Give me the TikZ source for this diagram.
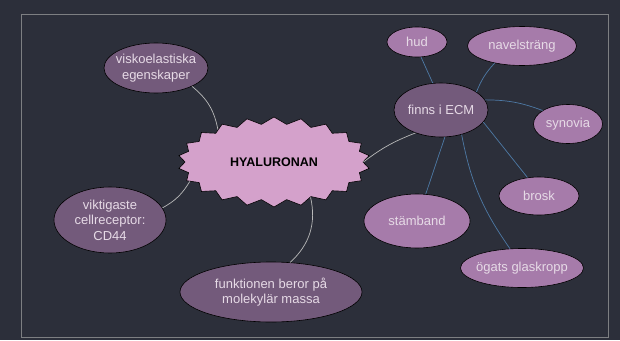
\documentclass[tikz,border=0pt]{standalone}
\usepackage{fontspec}
\setmainfont{Liberation Sans}
\usetikzlibrary{shapes.geometric,shapes.symbols}
\definecolor{bgcol}{RGB}{44,47,58}
\definecolor{framecol}{RGB}{125,127,130}
\definecolor{darkpurple}{RGB}{115,90,123}
\definecolor{lightpurple}{RGB}{166,123,170}
\definecolor{pinkstar}{RGB}{212,161,203}
\definecolor{nodetext}{RGB}{230,218,230}
\definecolor{bluelink}{RGB}{78,122,166}
\definecolor{greylink}{RGB}{185,185,185}
\tikzset{
  topic/.style={ellipse, draw=black, line width=0.6pt, inner sep=0pt},
  darktopic/.style={topic, fill=darkpurple},
  lighttopic/.style={topic, fill=lightpurple},
  every label/.style={align=center, text=nodetext,
    font=\fontsize{13}{15.5}\selectfont},
  hyalink/.style={draw=greylink, line width=0.7pt},
  ecmlink/.style={draw=bluelink, line width=0.7pt}
}

\begin{document}
\begin{tikzpicture}[x=1pt,y=-1pt]
    \fill[bgcol] (0,0) rectangle (620,340);
    \draw[framecol, line width=0.8pt] (21,14) rectangle (608,337);

    % centre
    \node[starburst, starburst points=22, starburst point height=7pt,
      random starburst=0, fill=pinkstar, draw=black, line width=0.6pt,
      minimum width=192pt, minimum height=90pt, inner sep=0pt,
      font=\bfseries\fontsize{12.5}{15}\selectfont]
      (hyal) at (274,162) {HYALURONAN};

    \node[darktopic, minimum width=104pt, minimum height=50pt,
      label={center:viskoelastiska\\egenskaper}] (visko) at (156,68) {};
    \node[darktopic, minimum width=112pt, minimum height=66pt,
      label={center:viktigaste\\cellreceptor:\\CD44}] (cd) at (110,220) {};
    \node[darktopic, minimum width=182pt, minimum height=60pt,
      label={center:funktionen beror på\\molekylär massa}] (massa) at (271,292) {};
    \node[darktopic, minimum width=94pt, minimum height=54pt,
      label={center:finns i ECM}] (ecm) at (441,110) {};

    % where it is found
    \node[lighttopic, minimum width=60pt, minimum height=30pt,
      label={center:hud}] (hud) at (417,42) {};
    \node[lighttopic, minimum width=109pt, minimum height=39pt,
      label={center:navelsträng}] (navel) at (522,46) {};
    \node[lighttopic, minimum width=69pt, minimum height=39pt,
      label={center:synovia}] (synovia) at (568,124) {};
    \node[lighttopic, minimum width=80pt, minimum height=38pt,
      label={center:brosk}] (brosk) at (539,196) {};
    \node[lighttopic, minimum width=106pt, minimum height=54pt,
      label={center:stämband}] (stamband) at (417,221) {};
    \node[lighttopic, minimum width=123pt, minimum height=39pt,
      label={center:ögats glaskropp}] (glas) at (522,268) {};

    \draw[hyalink] (visko.-27) to[bend left=20] (hyal.150);
    \draw[hyalink] (ecm.-138) to[bend right=8] (hyal.0);
    \draw[hyalink] (cd.13) to[bend right=15] (hyal.193);
    \draw[hyalink] (massa.57) to[bend right=30] (hyal.-44);

    \draw[ecmlink] (ecm.107) -- (hud.-75);
    \draw[ecmlink] (ecm.27) to[bend left=10] (navel.-148);
    \draw[ecmlink] (ecm.13) to[bend left=10] (synovia.152);
    \draw[ecmlink] (ecm.-16) -- (brosk.122);
    \draw[ecmlink] (ecm.-82) -- (stamband.72);
    \draw[ecmlink] (ecm.-50) to[bend right=12] (glas.122);
\end{tikzpicture}
\end{document}
